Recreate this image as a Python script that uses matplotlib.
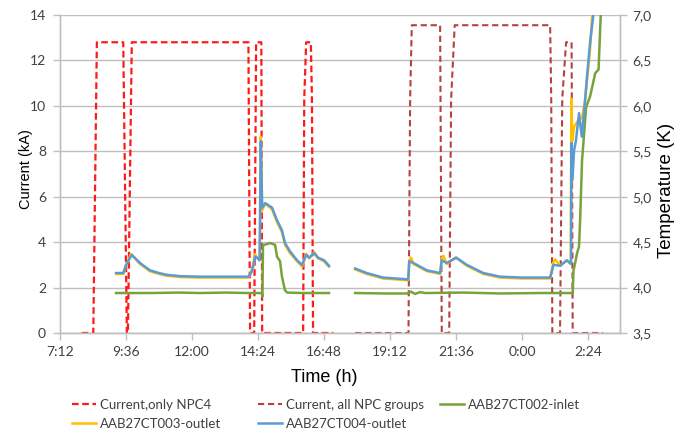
import numpy as np
import matplotlib
matplotlib.use("Agg")
import matplotlib.pyplot as plt

nan = float("nan")

# time axis, hours since midnight of day 1 (after midnight +24)
xtick_pos = [7.2, 9.6, 12.0, 14.4, 16.8, 19.2, 21.6, 24.0, 26.4]
xtick_lab = ["7:12", "9:36", "12:00", "14:24", "16:48", "19:12", "21:36", "0:00", "2:24"]

# current, only NPC4 (kA)
npc4_t = [7.99, 8.41, 8.54, 9.50, 9.63, 9.67, 9.81, 14.05, 14.11, 14.26, 14.33, 14.52, 14.55,
          16.04, 16.08, 16.15, 16.32, 16.36, 16.40, 17.14]
npc4_i = [0, 0, 12.8, 12.8, 0, 0, 12.8, 12.8, 0, 0, 12.8, 12.8, 0,
          0, 10.3, 12.8, 12.8, 10.3, 0, 0]

# current, all NPC groups (kA)
all_t = [17.93, 19.87, 19.93, 19.99, 21.02, 21.08, 21.35, 21.42, 21.55, 25.02, 25.06, 25.10,
         25.38, 25.46, 25.60, 25.80, 25.84, 26.95]
all_i = [0, 0, 10.3, 13.55, 13.55, 0, 0, 10.3, 13.55, 13.55, 10.3, 0,
         0, 10.3, 12.8, 12.8, 0, 0]

# AAB27CT002-inlet (K)
ct002_t = [9.24, 10.5, 11.5, 12.3, 13.2, 14.0, 14.53, 14.56, 14.58, 14.62, 14.84, 15.02, 15.09,
           15.20, 15.27, 15.38, 15.46, 16.0, 16.98, nan,
           17.93, 19.0, 19.82, 19.96, 20.11, 20.29, 20.47, 21.91, 23.20, 24.66, 25.84,
           25.87, 25.93, 26.00, 26.07, 26.11, 26.18, 26.33, 26.47, 26.66, 26.78, 26.86, 26.89]
ct002_T = [3.94, 3.94, 3.945, 3.94, 3.945, 3.94, 3.94, 3.90, 4.47, 4.47, 4.49, 4.47, 4.34,
           4.29, 4.12, 3.97, 3.945, 3.94, 3.94, nan,
           3.94, 3.935, 3.935, 3.955, 3.93, 3.95, 3.94, 3.945, 3.935, 3.94, 3.94,
           4.19, 4.27, 4.38, 4.45, 4.74, 5.40, 5.99, 6.10, 6.36, 6.40, 7.0, 7.39]

# AAB27CT003-outlet (K)
ct003_t = [9.24, 9.50, 9.60, 9.78, 10.11, 10.47, 10.8, 11.08, 11.6, 12.29, 14.05, 14.15, 14.22,
           14.29, 14.36, 14.46, 14.50, 14.55, 14.66, 14.76, 14.91, 15.09, 15.27, 15.38, 15.56,
           15.82, 16.00, 16.15, 16.26, 16.44, 16.58, 16.80, 16.98, nan,
           17.93, 18.35, 18.95, 19.86, 19.90, 19.96, 20.05, 20.54, 21.02, 21.08, 21.14, 21.26,
           21.60, 21.99, 22.59, 23.20, 24.00, 25.02, 25.14, 25.20, 25.38, 25.63, 25.77, 25.79,
           25.83, 25.89, 26.04, 26.18, 26.29, 26.47, 26.55, 26.64]
ct003_T = [4.15, 4.15, 4.24, 4.37, 4.26, 4.18, 4.15, 4.13, 4.115, 4.11, 4.11, 4.17, 4.25,
           4.37, 4.33, 4.30, 5.66, 4.85, 4.92, 4.90, 4.86, 4.72, 4.61, 4.47, 4.38,
           4.29, 4.23, 4.37, 4.32, 4.39, 4.32, 4.29, 4.23, nan,
           4.20, 4.15, 4.10, 4.08, 4.30, 4.33, 4.26, 4.18, 4.15, 4.32, 4.35, 4.26,
           4.33, 4.24, 4.15, 4.11, 4.10, 4.10, 4.28, 4.31, 4.24, 4.30, 4.26, 6.08,
           5.62, 5.77, 5.84, 5.87, 6.06, 6.62, 7.0, 7.30]

# AAB27CT004-outlet (K)
ct004_t = [9.24, 9.50, 9.60, 9.81, 10.11, 10.47, 10.8, 11.08, 11.6, 12.29, 14.05, 14.15, 14.22,
           14.29, 14.36, 14.46, 14.50, 14.55, 14.66, 14.76, 14.91, 15.09, 15.27, 15.38, 15.56,
           15.82, 16.00, 16.15, 16.26, 16.44, 16.58, 16.80, 16.98, nan,
           17.93, 18.35, 18.95, 19.86, 19.90, 20.05, 20.54, 21.02, 21.08, 21.26, 21.60, 21.99,
           22.59, 23.20, 24.00, 25.02, 25.14, 25.38, 25.63, 25.78, 25.79, 25.83, 25.89, 25.96,
           26.07, 26.17, 26.26, 26.36, 26.47, 26.59, 26.69]
ct004_T = [4.16, 4.16, 4.25, 4.36, 4.27, 4.19, 4.16, 4.14, 4.125, 4.12, 4.12, 4.16, 4.23,
           4.34, 4.33, 4.30, 5.61, 4.88, 4.93, 4.91, 4.88, 4.74, 4.63, 4.49, 4.40,
           4.30, 4.25, 4.36, 4.33, 4.38, 4.33, 4.30, 4.24, nan,
           4.21, 4.16, 4.11, 4.09, 4.29, 4.27, 4.19, 4.16, 4.30, 4.27, 4.33, 4.25,
           4.16, 4.12, 4.11, 4.11, 4.25, 4.24, 4.30, 4.26, 5.59, 5.18, 5.51, 5.62,
           5.92, 5.66, 5.95, 6.32, 6.69, 7.0, 7.30]

# colours
c_npc4 = "#FF1A1A"
c_all = "#B4433F"
c_002 = "#77A33B"
c_003 = "#FFC000"
c_004 = "#5B9BD5"
grid_c = "#BFBFBF"
txt_c = "#404040"

fig = plt.figure(figsize=(6.83, 4.36), dpi=100)
ax = fig.add_axes([60/683, 1-333/436, 560/683, 318/436])
ax2 = ax.twinx()

l1, = ax.plot(npc4_t, npc4_i, color=c_npc4, lw=1.6, dashes=(3, 1.6), label="Current,only NPC4")
l2, = ax.plot(all_t, all_i, color=c_all, lw=1.5, dashes=(3, 1.8), label="Current, all NPC groups")
l3, = ax2.plot(ct002_t, ct002_T, color=c_002, lw=1.8, label="AAB27CT002-inlet")
l4, = ax2.plot(ct003_t, ct003_T, color=c_003, lw=1.8, label="AAB27CT003-outlet")
l5, = ax2.plot(ct004_t, ct004_T, color=c_004, lw=1.8, label="AAB27CT004-outlet")

ax.set_xlim(7.2, 27.56)
ax.set_ylim(0, 14)
ax2.set_ylim(3.5, 7.0)
ax.set_xticks(xtick_pos)
ax.set_xticklabels(xtick_lab)
ax.set_yticks(range(0, 15, 2))
ax2_ticks = [3.5, 4.0, 4.5, 5.0, 5.5, 6.0, 6.5, 7.0]
ax2.set_yticks(ax2_ticks)
ax2.set_yticklabels([("%.1f" % v).replace(".", ",") for v in ax2_ticks])

ax.yaxis.grid(True, color=grid_c, lw=1)
ax.set_axisbelow(True)

for a in (ax, ax2):
    for s in a.spines.values():
        s.set_color(grid_c)
        s.set_linewidth(1)
    a.spines["top"].set_visible(False)
    a.tick_params(colors=grid_c, labelcolor=txt_c, length=5, width=1)
    for lab in a.get_xticklabels() + a.get_yticklabels():
        lab.set_family("Lato")
        lab.set_fontsize(10)
ax.tick_params(axis="y", pad=5)
ax.tick_params(axis="x", pad=4)
ax2.tick_params(axis="y", pad=4)

ax.set_xlabel("Time (h)", family="Liberation Sans", fontsize=13, color="black")
ax.xaxis.set_label_coords(0.471, -0.112)
ax.set_ylabel("Current (kA)", family="Liberation Sans", fontsize=10.5, color="black")
ax.yaxis.set_label_coords(-0.048, 0.516)
ax2.set_ylabel("Temperature (K)", family="Liberation Sans", fontsize=13.5, color="black")
ax2.yaxis.set_label_coords(1.068, 0.447)

# legend: three columns like the excel one
cols = [([l1, l4], 72), ([l2, l5], 258), ([l3], 440)]
for hs, xpix in cols:
    fig.legend(handles=hs, loc="upper left", bbox_to_anchor=(xpix/683, 1-399/436),
               frameon=False, borderpad=0, borderaxespad=0, handlelength=1.8,
               handletextpad=0.35, labelspacing=0.5,
               prop={"family": "Lato", "size": 9.5}, labelcolor=txt_c)

fig.savefig("out.png", dpi=100)
